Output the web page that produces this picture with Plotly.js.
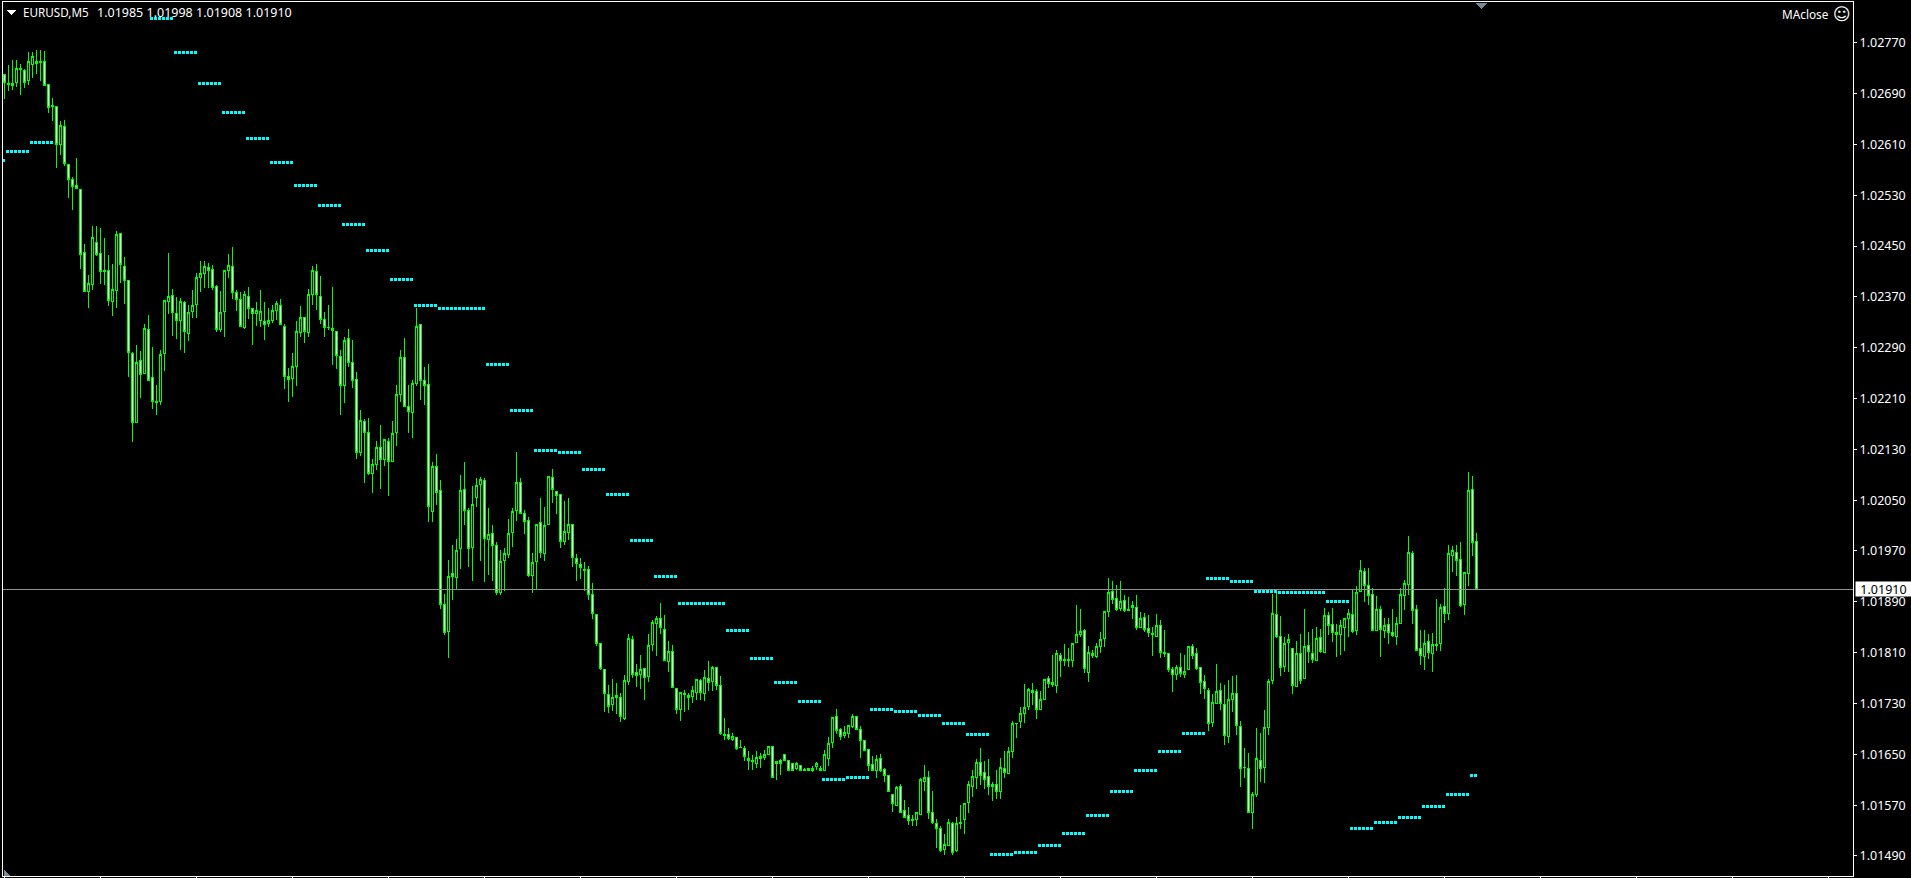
<!DOCTYPE html>
<html>
<head>
<meta charset="utf-8">
<title>EURUSD,M5</title>
<script src="https://cdn.plot.ly/plotly-3.0.1.min.js"></script>
<style>
html,body{margin:0;padding:0;background:#000;overflow:hidden}
#chart{width:1911px;height:878px}
#chart .boxes path,#chart .scatterlayer path,#chart .shapelayer path{shape-rendering:crispEdges}
</style>
</head>
<body>
<div id="chart"></div>
<script>
// Prices, in points (1e-5).
const openPts = [
102720,102706,102705,102707,102729,102726,102710,102736,102741,102740,
102740,102704,102671,102669,102610,102638,102578,102555,102545,102539,
102440,102378,102390,102455,102438,102412,102411,102362,102380,102469,
102418,102396,102281,102173,102270,102250,102319,102243,102206,102206,
102281,102362,102372,102344,102333,102361,102312,102347,102358,102401,
102407,102416,102413,102387,102318,102347,102411,102418,102377,102366,
102322,102371,102351,102344,102332,102331,102328,102332,102348,102356,
102324,102244,102241,102260,102314,102338,102314,102373,102410,102371,
102335,102322,102320,102315,102276,102230,102305,102266,102240,102125,
102174,102156,102092,102106,102133,102114,102143,102111,102156,102217,
102275,102197,102188,102234,102326,102238,102232,102032,102103,102065,
101886,101843,101935,101928,101974,102067,102034,101975,102054,102074,
102081,101988,101998,101978,101904,101955,101964,101999,102033,102078,
102029,102018,101932,101953,102015,101966,102011,102086,102064,102059,
101985,101999,102012,101958,101949,101941,101941,101901,101870,101825,
101784,101744,101728,101742,101739,101706,101764,101831,101778,101775,
101785,101772,101823,101856,101864,101847,101796,101812,101754,101721,
101746,101743,101741,101747,101766,101746,101769,101765,101787,101758,
101681,101681,101674,101676,101661,101659,101644,101641,101636,101646,
101645,101650,101662,101638,101640,101650,101640,101635,101628,101632,
101626,101628,101627,101631,101628,101625,101644,101668,101709,101689,
101679,101682,101694,101709,101689,101671,101657,101634,101625,101643,
101626,101617,101586,101570,101600,101561,101554,101547,101548,101556,
101608,101613,101558,101541,101533,101501,101507,101541,101498,101542,
101547,101574,101599,101614,101637,101621,101615,101599,101603,101592,
101628,101620,101654,101699,101701,101715,101726,101750,101749,101720,
101736,101769,101763,101759,101806,101799,101799,101798,101826,101838,
101845,101779,101809,101804,101819,101832,101874,101907,101896,101879,
101892,101878,101881,101881,101849,101866,101848,101840,101836,101853,
101810,101808,101784,101776,101787,101776,101783,101820,101808,101787,
101765,101751,101700,101730,101751,101729,101678,101736,101746,101694,
101630,101628,101558,101586,101641,101629,101692,101766,101870,101836,
101788,101826,101817,101757,101808,101769,101822,101809,101798,101834,
101810,101869,101855,101841,101838,101849,101864,101870,101845,101906,
101938,101915,101902,101845,101878,101845,101855,101842,101835,101856,
101900,101917,101966,101878,101816,101804,101828,101809,101823,101824,
101883,101872,101963,101968,101957,101886,101935,102067,101985];
const highPts = [
102720,102735,102743,102743,102736,102729,102756,102755,102759,102759,
102757,102704,102683,102670,102647,102648,102578,102558,102589,102539,
102453,102404,102482,102482,102478,102463,102436,102422,102474,102471,
102433,102396,102283,102294,102285,102327,102341,102291,102231,102286,
102365,102439,102382,102370,102368,102363,102357,102381,102407,102426,
102426,102424,102420,102389,102379,102412,102437,102448,102381,102378,
102379,102386,102352,102362,102380,102362,102352,102357,102363,102367,
102327,102258,102281,102332,102356,102338,102382,102419,102422,102403,
102346,102357,102385,102316,102286,102307,102319,102302,102251,102192,
102177,102179,102115,102143,102168,102146,102148,102175,102231,102286,
102305,102231,102239,102353,102327,102260,102264,102110,102123,102082,
101902,101956,101979,101989,102090,102110,102037,102073,102085,102086,
102085,102038,102011,101984,101972,101975,102020,102038,102126,102085,
102035,102024,101967,102012,102053,102039,102088,102099,102064,102059,
102049,102053,102012,101965,101959,101953,101946,101920,101871,101825,
101784,101759,101768,101763,101746,101775,101839,101836,101792,101806,
101785,101840,101861,101868,101888,101869,101828,101822,101754,101748,
101751,101747,101757,101768,101768,101783,101797,101789,101788,101773,
101707,101691,101683,101677,101673,101663,101655,101649,101655,101652,
101657,101663,101663,101638,101643,101650,101641,101635,101638,101633,
101629,101628,101632,101638,101632,101657,101677,101709,101721,101692,
101695,101695,101713,101710,101694,101672,101659,101647,101649,101651,
101628,101618,101587,101600,101603,101578,101567,101554,101559,101612,
101633,101623,101592,101549,101537,101525,101548,101544,101551,101570,
101572,101608,101626,101643,101660,101639,101642,101606,101626,101645,
101655,101661,101702,101699,101725,101761,101754,101763,101753,101749,
101768,101773,101806,101814,101809,101824,101817,101825,101885,101878,
101848,101820,101814,101825,101842,101876,101927,101923,101917,101923,
101901,101898,101892,101900,101874,101873,101869,101851,101871,101862,
101846,101809,101787,101791,101810,101806,101821,101824,101817,101788,
101775,101755,101745,101792,101762,101759,101767,101773,101775,101703,
101660,101652,101590,101692,101684,101720,101768,101902,101907,101868,
101834,101840,101817,101828,101840,101878,101842,101847,101851,101847,
101880,101874,101880,101855,101862,101864,101878,101910,101915,101956,
101944,101944,101912,101899,101884,101864,101864,101878,101866,101911,
101925,101994,101970,101885,101845,101845,101839,101841,101894,101887,
101912,101979,101978,101979,101984,101937,102094,102088,101998];
const lowPts = [
102682,102694,102695,102701,102687,102699,102703,102715,102721,102709,
102702,102660,102646,102572,102593,102576,102526,102507,102539,102414,
102377,102353,102380,102435,102390,102388,102356,102340,102353,102391,
102358,102244,102142,102173,102211,102250,102238,102194,102184,102200,
102253,102343,102309,102304,102287,102281,102301,102336,102336,102377,
102384,102384,102380,102315,102315,102307,102400,102366,102347,102324,
102319,102335,102294,102324,102322,102302,102322,102329,102334,102326,
102225,102205,102212,102230,102306,102297,102306,102357,102349,102327,
102307,102318,102263,102257,102184,102203,102260,102227,102115,102119,
102077,102090,102061,102098,102068,102104,102056,102111,102135,102205,
102197,102156,102148,102230,102208,102199,102015,102015,102042,101879,
101838,101802,101893,101910,101942,102011,101945,101923,102039,101954,
101921,101932,101923,101901,101901,101907,101959,101976,102017,102028,
101997,101929,101904,101910,101959,101954,102011,102046,102028,101975,
101979,101987,101945,101923,101926,101907,101893,101863,101821,101783,
101716,101715,101718,101713,101701,101704,101759,101770,101756,101753,
101735,101764,101813,101804,101840,101797,101780,101755,101714,101703,
101717,101720,101731,101735,101735,101734,101750,101750,101752,101680,
101672,101673,101671,101657,101660,101639,101625,101625,101628,101628,
101641,101650,101614,101609,101617,101639,101625,101625,101625,101625,
101623,101625,101622,101626,101623,101625,101632,101660,101682,101672,
101675,101675,101691,101688,101645,101656,101623,101624,101613,101622,
101606,101590,101559,101570,101559,101550,101539,101537,101537,101554,
101592,101548,101541,101503,101496,101491,101507,101491,101496,101533,
101525,101557,101583,101596,101601,101596,101586,101576,101579,101579,
101613,101619,101645,101676,101691,101700,101719,101727,101705,101719,
101735,101755,101756,101747,101772,101789,101788,101788,101826,101835,
101778,101764,101802,101802,101810,101819,101866,101886,101876,101875,
101874,101876,101863,101846,101849,101843,101834,101805,101835,101802,
101803,101780,101748,101767,101772,101770,101782,101800,101782,101745,
101737,101686,101693,101729,101720,101665,101668,101717,101681,101599,
101613,101558,101533,101583,101607,101605,101680,101761,101833,101773,
101780,101780,101745,101756,101761,101769,101793,101794,101797,101809,
101809,101838,101827,101803,101806,101813,101835,101841,101838,101906,
101890,101885,101845,101844,101803,101833,101824,101834,101822,101856,
101877,101900,101855,101812,101791,101783,101800,101780,101813,101813,
101857,101861,101937,101931,101882,101869,101915,101962,101908];
const closePts = [
102708,102704,102702,102729,102728,102708,102740,102748,102737,102739,
102703,102668,102669,102610,102640,102580,102555,102543,102540,102436,
102378,102391,102464,102436,102410,102410,102365,102382,102468,102421,
102396,102283,102173,102266,102247,102320,102239,102206,102204,102280,
102365,102371,102346,102332,102363,102316,102345,102356,102401,102407,
102418,102411,102385,102319,102346,102412,102420,102377,102366,102324,
102374,102352,102344,102349,102347,102326,102333,102349,102359,102326,
102244,102240,102261,102316,102338,102315,102374,102412,102373,102334,
102322,102321,102317,102277,102230,102302,102266,102238,102125,102176,
102157,102092,102106,102133,102114,102145,102111,102155,102217,102275,
102198,102190,102234,102324,102239,102230,102040,102103,102062,101886,
101842,101930,101930,101971,102065,102034,101974,102043,102073,102083,
101989,101996,101978,101904,101954,101966,101998,102032,102078,102029,
102016,101931,101952,102012,101967,102010,102087,102067,102058,101985,
102000,102012,101960,101950,101944,101939,101901,101871,101824,101785,
101746,101726,101739,101739,101709,101766,101833,101775,101774,101784,
101771,101822,101857,101864,101849,101797,101812,101755,101721,101747,
101744,101739,101750,101768,101747,101771,101763,101787,101758,101682,
101680,101675,101678,101659,101660,101646,101640,101638,101645,101644,
101649,101662,101614,101636,101636,101640,101625,101625,101635,101625,
101625,101625,101625,101635,101625,101650,101667,101708,101687,101678,
101684,101695,101710,101689,101671,101656,101632,101625,101642,101625,
101616,101591,101572,101598,101559,101551,101546,101546,101558,101610,
101614,101558,101543,101533,101499,101508,101543,101496,101541,101541,
101572,101602,101615,101637,101617,101611,101600,101603,101592,101629,
101621,101654,101698,101698,101714,101724,101752,101747,101720,101736,
101768,101761,101760,101809,101798,101797,101797,101825,101839,101844,
101785,101811,101805,101820,101831,101875,101905,101894,101878,101891,
101876,101877,101885,101849,101864,101847,101841,101838,101852,101811,
101809,101784,101776,101786,101777,101781,101820,101805,101785,101763,
101753,101698,101732,101749,101730,101680,101737,101746,101695,101628,
101629,101558,101586,101644,101628,101693,101765,101872,101836,101787,
101825,101831,101759,101809,101766,101820,101812,101800,101833,101812,
101869,101853,101842,101838,101853,101863,101872,101843,101905,101940,
101916,101900,101845,101878,101846,101853,101842,101837,101856,101902,
101919,101968,101877,101813,101805,101825,101811,101823,101822,101881,
101872,101966,101971,101955,101884,101936,102065,101984,101910];

// MAclose indicator: level (points, null = off the chart) and how many bars it holds.
const maLevels = [102585,102599,102613,null,102808,102755,102706,102660,102619,102582,102545,102514,102484,102443,102397,102357,102352,102264,102191,102128,102125,102098,102059,101987,101930,101888,101845,101801,101763,101733,101611,101614,101721,101718,101711,101699,101681,101493,101496,101507,101526,101554,101592,101625,101655,101683,101927,101922,101906,101905,101891,101534,101543,101551,101568,101586,101617];
const maBars   = [1,6,6,24,6,6,6,6,6,6,6,6,6,6,6,6,12,6,6,6,6,6,6,6,6,12,6,6,6,6,6,6,6,6,6,6,6,6,6,6,6,6,6,6,6,6,6,6,6,12,6,6,6,6,6,6,2];

const priceTicks = [1.02770,1.02690,1.02610,1.02530,1.02450,1.02370,1.02290,1.02210,1.02130,1.02050,1.01970,1.01890,1.01810,1.01730,1.01650,1.01570,1.01490];
const timeTicks = [0,24,48,72,96,120,144,168,192,216,240,264,288,312,336,360,384,408,432,456];
const symbolLabel = 'EURUSD,M5';
const quoteLabel = '1.01985 1.01998 1.01908 1.01910';
const indicatorName = 'MAclose';
const bidPrice = 1.01910;

const W = 1911, H = 878, L = 3, R = 1853, T = 2, B = 876;
const toPrice = a => a.map(v => v === null ? null : v / 1e5);
const barIdx = openPts.map((_, i) => i);
const maY = [], maX = [];
maLevels.forEach((lvl, k) => { for (let n = 0; n < maBars[k]; n++) { maX.push(maX.length - 0.25); maY.push(lvl === null ? null : lvl / 1e5); } });

// paper coords from pixel coords (decoration only)
const px = x => (x - L) / (R - L), py = y => (B - y) / (B - T);
const font = 'Noto Sans, Tahoma, sans-serif';

const candles = {
  type: 'candlestick', x: barIdx,
  open: toPrice(openPts), high: toPrice(highPts), low: toPrice(lowPts), close: toPrice(closePts),
  increasing: {line: {color: '#00ff00', width: 1}, fillcolor: '#000000'},
  decreasing: {line: {color: '#00ff00', width: 1}, fillcolor: '#ffffff'},
  whiskerwidth: 0, hoverinfo: 'skip', showlegend: false
};
const ma = {
  type: 'scatter', mode: 'markers', x: maX, y: maY, cliponaxis: true,
  marker: {symbol: 'square', size: 3, color: '#00ffff', line: {width: 0}},
  hoverinfo: 'skip', showlegend: false
};

const layout = {
  width: W, height: H, autosize: false,
  paper_bgcolor: '#000', plot_bgcolor: '#000',
  margin: {l: L, r: W - R, t: T, b: H - B, pad: 0},
  font: {family: font, size: 12.5, color: '#ffffff'},
  boxgap: 0.2857,
  xaxis: {type: 'linear', range: [-0.375, 462.125], showgrid: false, zeroline: false, rangeslider: {visible: false},
    showline: true, linecolor: '#ffffff', linewidth: 1, mirror: true,
    tickmode: 'array', tickvals: timeTicks, ticktext: timeTicks.map(() => ''), ticks: 'outside', ticklen: 2, tickwidth: 1, tickcolor: '#ffffff'},
  yaxis: {type: 'linear', side: 'right', range: [1.014585, 1.02834], showgrid: false, zeroline: false,
    showline: true, linecolor: '#ffffff', linewidth: 1, mirror: true,
    tickmode: 'array', tickvals: priceTicks, ticktext: priceTicks.map(v => v.toFixed(5)),
    ticks: 'outside', ticklen: 3, tickwidth: 1, tickcolor: '#ffffff', tickfont: {family: font, size: 12.5, color: '#ffffff'}},
  shapes: [
    {type: 'line', xref: 'paper', x0: 0, x1: 1, yref: 'y', y0: bidPrice, y1: bidPrice, line: {color: '#909090', width: 1}},
    {type: 'path', xref: 'paper', yref: 'paper', fillcolor: '#ffffff', line: {width: 0},
      path: `M ${px(7)} ${py(10)} L ${px(16)} ${py(10)} L ${px(11.5)} ${py(15)} Z`},
    {type: 'path', xref: 'paper', yref: 'paper', fillcolor: '#778899', line: {width: 0},
      path: `M ${px(1476)} ${py(3)} L ${px(1487)} ${py(3)} L ${px(1481.5)} ${py(9)} Z`},
    {type: 'path', xref: 'paper', yref: 'paper', fillcolor: '#778899', line: {width: 0},
      path: `M ${px(4)} ${py(870)} L ${px(4)} ${py(875.5)} L ${px(10)} ${py(875.5)} Z`}
  ],
  annotations: [
    {xref: 'paper', yref: 'paper', x: px(21), y: py(12.5), xanchor: 'left', yanchor: 'middle', showarrow: false,
      text: symbolLabel, font: {family: font, size: 11.7, color: '#ffffff'}},
    {xref: 'paper', yref: 'paper', x: px(95), y: py(12.5), xanchor: 'left', yanchor: 'middle', showarrow: false,
      text: quoteLabel, font: {family: font, size: 12.5, color: '#ffffff'}},
    {xref: 'paper', yref: 'paper', x: px(1831), y: py(14), xanchor: 'right', yanchor: 'middle', showarrow: false,
      text: indicatorName, font: {family: font, size: 11.8, color: '#ffffff'}},
    {xref: 'paper', yref: 'paper', x: px(1841.5), y: py(14), xanchor: 'center', yanchor: 'middle', showarrow: false,
      text: '\u263A', font: {family: 'DejaVu Sans', size: 17, color: '#ffffff'}},
    {xref: 'paper', yref: 'y', x: px(1883), y: bidPrice, xanchor: 'center', yanchor: 'middle', showarrow: false,
      width: 55, height: 14, bgcolor: '#ffffff', borderpad: 0,
      text: bidPrice.toFixed(5), font: {family: font, size: 12.5, color: '#000000'}}
  ]
};

Plotly.newPlot('chart', [candles, ma], layout, {staticPlot: true, displayModeBar: false});
</script>
</body>
</html>
